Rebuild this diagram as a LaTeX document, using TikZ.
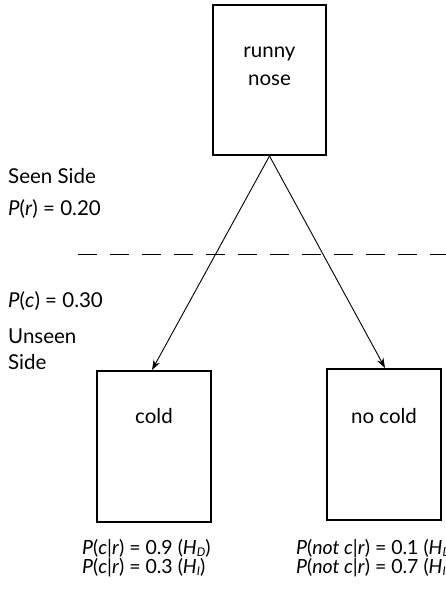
\documentclass[tikz,border=0pt]{standalone}
\usepackage{fontspec}
\setmainfont{Lato}
\usetikzlibrary{arrows.meta}
\begin{document}
\begin{tikzpicture}[x=1pt,y=-1pt,
  box/.style={draw,line width=2pt,rectangle,inner sep=0pt},
  lbl/.style={inner sep=0pt,font=\fontsize{20.5}{22}\selectfont},
  blbl/.style={inner sep=0pt,font=\fontsize{19.5}{20}\selectfont},
  conn/.style={line width=0.9pt,-{Stealth[length=10pt,width=7pt]}}]
\useasboundingbox (0,0) rectangle (445,589);
\node[box,minimum width=113pt,minimum height=150pt] (rn) at (269.5,80) {};
\node[box,minimum width=114pt,minimum height=151pt] (cold) at (154,446.5) {};
\node[box,minimum width=114pt,minimum height=151pt] (nocold) at (384,444.5) {};
\node[lbl,anchor=base] (t1) at (269.5,57) {runny};
\node[lbl,anchor=base] (t2) at (269.5,85) {nose};
\node[lbl,anchor=base] (t3) at (154,423) {cold};
\node[lbl,anchor=base] (t4) at (384,423) {no cold};
\node[lbl,anchor=base west] (s1) at (8,183) {Seen Side};
\node[lbl,anchor=base west] (s2) at (8,215) {\textit{P}(\textit{r}) = 0.20};
\node[lbl,anchor=base west] (s3) at (8,307) {\textit{P}(\textit{c}) = 0.30};
\node[lbl,anchor=base west] (s4) at (8,343) {Unseen};
\node[lbl,anchor=base west] (s5) at (8,369) {Side};
\newcommand{\subsc}[1]{\raisebox{-0.25ex}{\fontsize{12}{13}\selectfont\itshape #1}}
\node[blbl,anchor=base west] (b1) at (82,554) {\textit{P}(\textit{c}|\textit{r}) = 0.9 (\textit{H}\subsc{D})};
\node[blbl,anchor=base west] (b2) at (82,573) {\textit{P}(\textit{c}|\textit{r}) = 0.3 (\textit{H}\subsc{I})};
\node[blbl,anchor=base west] (b3) at (296,554) {\textit{P}(\textit{not c}|\textit{r}) = 0.1 (\textit{H}\subsc{D})};
\node[blbl,anchor=base west] (b4) at (296,573) {\textit{P}(\textit{not c}|\textit{r}) = 0.7 (\textit{H}\subsc{I})};
\coordinate (d1) at (78,254);
\coordinate (d2) at (452,254);
\draw[line width=1pt,dash pattern=on 19pt off 13pt] (d1) -- (d2);
\draw[conn] (rn.south) -- ([xshift=-2pt]cold.north);
\draw[conn] (rn.south) -- ([xshift=1pt]nocold.north);
\end{tikzpicture}
\end{document}
